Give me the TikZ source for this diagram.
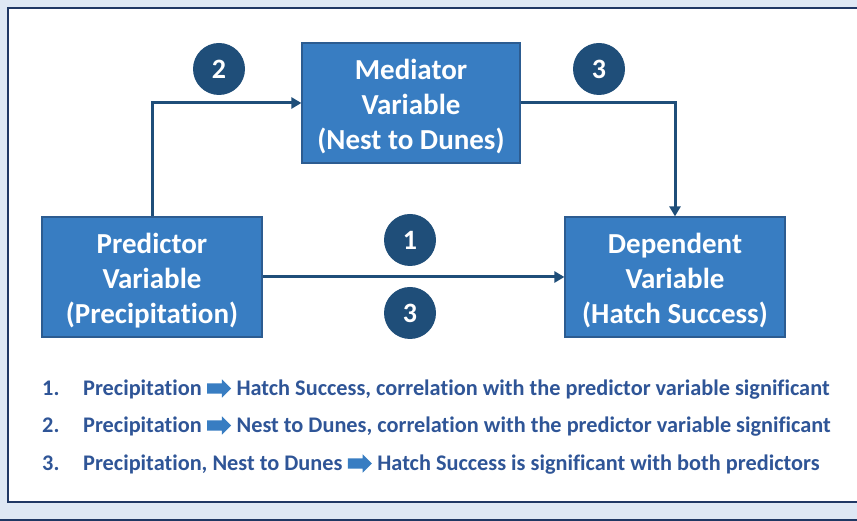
\documentclass[tikz,border=0pt]{standalone}
\usepackage{fontspec}
\setmainfont{Carlito}[Ligatures=NoCommon]
\usetikzlibrary{positioning,shapes.arrows,arrows.meta}

\definecolor{pagebg}{RGB}{222,232,244}
\definecolor{frameline}{RGB}{31,56,100}
\definecolor{boxfill}{RGB}{56,125,194}
\definecolor{boxline}{RGB}{44,92,145}
\definecolor{navy}{RGB}{31,78,121}
\definecolor{listblue}{RGB}{47,85,151}

\tikzset{
    varbox/.style={draw=boxline, line width=1.2pt, fill=boxfill,
        minimum width=218pt, minimum height=120pt},
    boxtext/.style={text=white, align=center, yshift=-4pt,
        font=\fontsize{29}{35}\selectfont\bfseries},
    stepnum/.style={circle, fill=navy, text=white, minimum size=52pt, inner sep=0pt,
        font=\fontsize{28}{28}\selectfont\bfseries},
    link/.style={draw=navy, line width=3pt, -{Triangle[length=10pt,width=11pt]}},
    listtxt/.style={text=listblue, inner sep=0pt, anchor=base west,
        font=\fontsize{22.3}{22.3}\selectfont\bfseries},
    blockarr/.style={single arrow, fill=boxfill, inner xsep=0pt, inner ysep=5pt,
        minimum height=24pt, minimum width=18pt, single arrow head extend=4pt, anchor=west}
}

\begin{document}
\begin{tikzpicture}[x=1pt,y=1pt]
    \useasboundingbox (0,0) rectangle (857,521);
    % page and panel
    \fill[pagebg] (0,0) rectangle (857,521);
    \draw[frameline, line width=1.5pt] (0,1) -- (857,1);
    \filldraw[fill=white, draw=frameline, line width=1.5pt] (8,19) rectangle (880,513);

    % the three variables
    \node[varbox, minimum width=220pt, label={[boxtext]center:Predictor\\Variable\\(Precipitation)}] (pred) at (152,244) {};
    \node[varbox, label={[boxtext]center:Mediator\\Variable\\(Nest to Dunes)}] (med) at (411,418) {};
    \node[varbox, minimum width=220pt, label={[boxtext]center:Dependent\\Variable\\(Hatch Success)}] (dep) at (675,244) {};

    % paths between them
    \draw[link] (pred.north) |- (med.west);
    \draw[link] (med.east) -| (dep.north);
    \draw[link] (pred.east) -- (dep.west);

    % step numbers
    \node[stepnum] (s2) at (219,452) {2};
    \node[stepnum] (s3a) at (599,452) {3};
    \node[stepnum] (s1) at (410,281) {1};
    \node[stepnum] (s3b) at (410,208) {3};

    % legend lines
    \node[listtxt] (n1) at (42,125) {1.};
    \node[listtxt] (a1) at (83,125) {Precipitation};
    \node[blockarr] (r1) at ([xshift=5pt,yshift=7.5pt]a1.base east) {};
    \node[listtxt] (b1) at ([xshift=5pt,yshift=-7.5pt]r1.east) {Hatch Success, correlation with the predictor variable significant};

    \node[listtxt] (n2) at (42,88) {2.};
    \node[listtxt] (a2) at (83,88) {Precipitation};
    \node[blockarr] (r2) at ([xshift=5pt,yshift=7.5pt]a2.base east) {};
    \node[listtxt] (b2) at ([xshift=5pt,yshift=-7.5pt]r2.east) {Nest to Dunes, correlation with the predictor variable significant};

    \node[listtxt] (n3) at (42,50) {3.};
    \node[listtxt] (a3) at (83,50) {Precipitation, Nest to Dunes};
    \node[blockarr] (r3) at ([xshift=5pt,yshift=7.5pt]a3.base east) {};
    \node[listtxt] (b3) at ([xshift=5pt,yshift=-7.5pt]r3.east) {Hatch Success is significant with both predictors};
\end{tikzpicture}
\end{document}
